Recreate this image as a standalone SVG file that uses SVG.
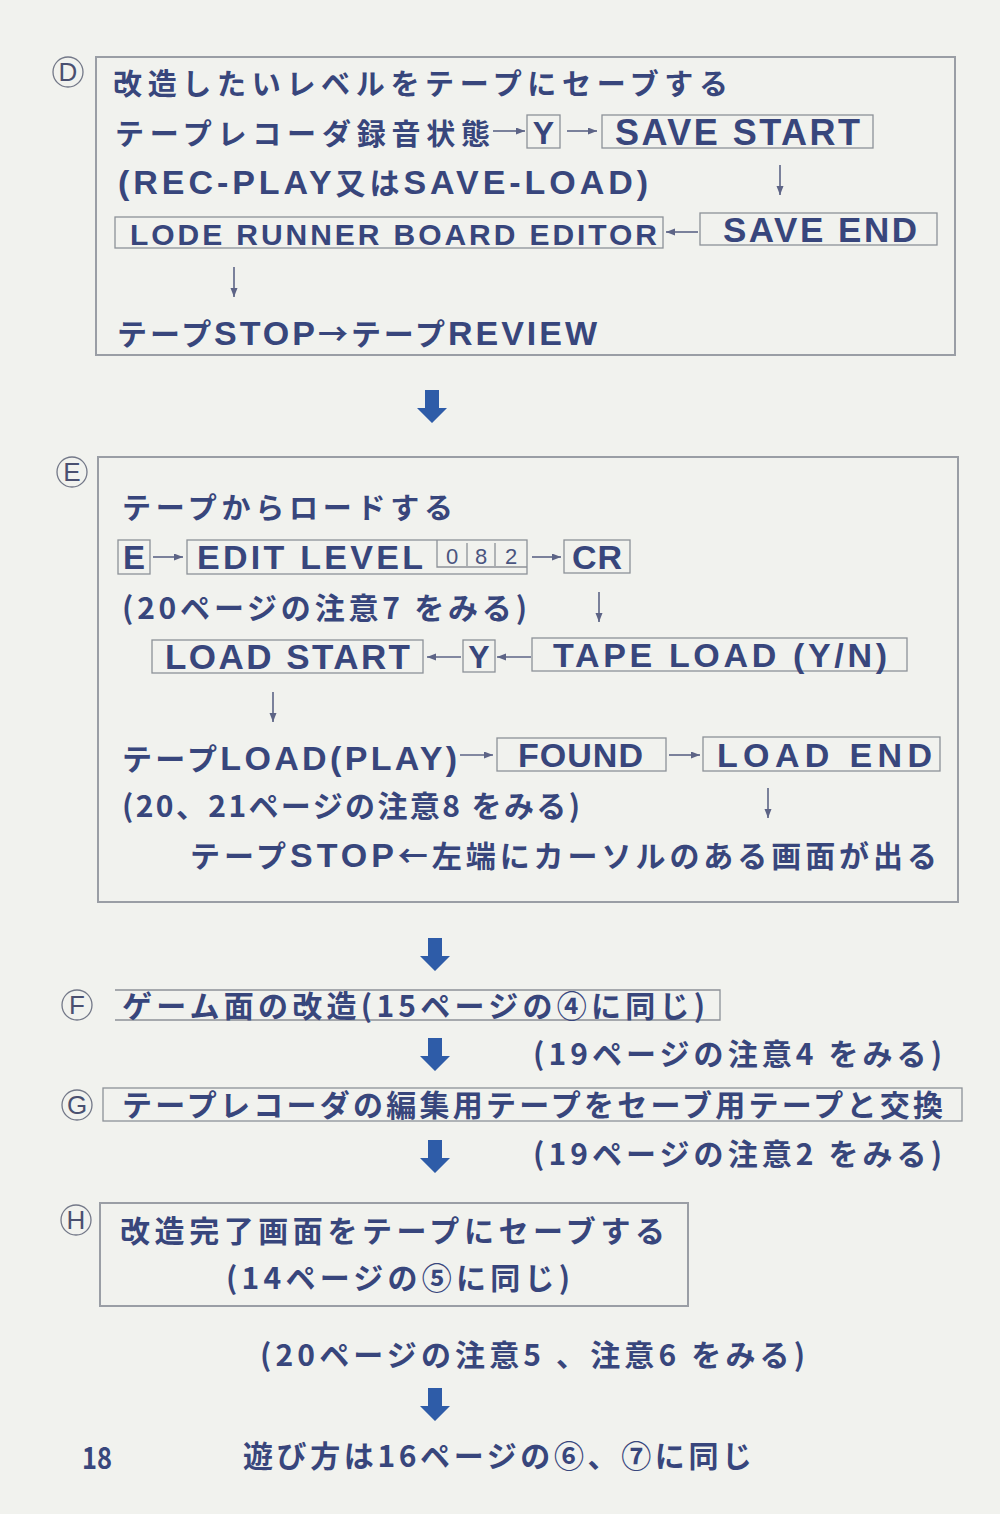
<svg xmlns="http://www.w3.org/2000/svg" width="1000" height="1514" viewBox="0 0 1000 1514">
<defs>
<style>
.bg{fill:#f1f2ee}
.t{font-family:"Liberation Sans","Noto Sans CJK JP","Noto Sans",sans-serif;fill:#38467c;font-weight:bold;font-size:34px}
.c{font-family:"Noto Sans CJK JP",sans-serif;font-size:30px}
.j{font-family:"Noto Sans CJK JP","Liberation Sans",sans-serif;fill:#38467c;font-weight:bold;font-size:29px}
.n{font-family:"Noto Sans CJK JP","Liberation Sans",sans-serif;fill:#38467c;font-weight:bold;font-size:30px}
.k{font-family:"Liberation Sans","Noto Sans",sans-serif;fill:#38467c;font-weight:bold}
.box{fill:none;stroke:#8d9198;stroke-width:1.3}
.big{fill:none;stroke:#9a9ea5;stroke-width:2}
.lbl{fill:none;stroke:#737888;stroke-width:1.3}
.lt{font-family:"Liberation Sans",sans-serif;fill:#4a5070;font-size:26px;text-anchor:middle}
.con{fill:none;stroke:#5d6486;stroke-width:1.6}
.blk{fill:#2e5ca8}
.dg{font-family:"Liberation Sans",sans-serif;fill:#4a5580;font-size:22px;text-anchor:middle}
</style>
<marker id="ah" markerWidth="10" markerHeight="8" refX="9" refY="3.5" orient="auto" markerUnits="userSpaceOnUse">
<path d="M0,0 L9,3.5 L0,7 z" fill="#5d6486"/>
</marker>
<symbol id="barrow" overflow="visible">
<path d="M-7,0 H7 V18 H15 L0,33 L-15,18 H-7 Z"/>
</symbol>
</defs>
<rect class="bg" x="0" y="0" width="1000" height="1514"/>

<!-- Section D -->
<g id="labelD"><circle class="lbl" cx="68" cy="72" r="15"/><text class="lt" x="68" y="81">D</text></g>
<g id="boxD"><rect class="big" x="96" y="57" width="859" height="298"/></g>
<g id="d-title"><text class="j" x="113" y="95" textLength="615" lengthAdjust="spacing">改造したいレベルをテープにセーブする</text></g>
<g id="d-record"><text class="j" x="115" y="145" textLength="375" lengthAdjust="spacing">テープレコーダ録音状態</text></g>
<g id="d-y"><rect class="box" x="527" y="115" width="33" height="33"/><text class="k" x="543.5" y="144" font-size="32" text-anchor="middle">Y</text></g>
<g id="d-savestart"><rect class="box" x="602" y="115" width="271" height="33"/><text class="k" x="615" y="145" font-size="36" textLength="245" lengthAdjust="spacing">SAVE START</text></g>
<g id="d-recplay"><text class="t" x="118" y="194" textLength="530" lengthAdjust="spacing">(REC-PLAY<tspan class="c">又は</tspan>SAVE-LOAD)</text></g>
<g id="d-editor"><rect class="box" x="115" y="217" width="548" height="31"/><text class="k" x="130" y="245" font-size="30" textLength="527" lengthAdjust="spacing">LODE RUNNER  BOARD EDITOR</text></g>
<g id="d-saveend"><rect class="box" x="700" y="213" width="237" height="32"/><text class="k" x="723" y="242" font-size="35" textLength="194" lengthAdjust="spacing">SAVE END</text></g>
<g id="d-stop"><text class="t" x="117" y="345" textLength="480" lengthAdjust="spacing"><tspan class="c">テープ</tspan>STOP<tspan class="c">→テープ</tspan>REVIEW</text></g>

<!-- Section E -->
<g id="labelE"><circle class="lbl" cx="72" cy="472" r="15"/><text class="lt" x="72" y="481">E</text></g>
<g id="boxE"><rect class="big" x="98" y="457" width="860" height="445"/></g>
<g id="e-title"><text class="j" x="122" y="519" textLength="331" lengthAdjust="spacing">テープからロードする</text></g>
<g id="e-e"><rect class="box" x="118" y="540" width="32" height="34"/><text class="k" x="134" y="569" font-size="33" text-anchor="middle">E</text></g>
<g id="e-editlevel"><rect class="box" x="187" y="540" width="340" height="34"/><text class="k" x="197" y="569" font-size="34" textLength="226" lengthAdjust="spacing">EDIT LEVEL</text>
<path class="box" d="M437,540 V567 H527 M467,543 V566 M495,543 V566"/>
<text class="dg" x="452" y="564">0</text><text class="dg" x="481" y="564">8</text><text class="dg" x="511" y="564">2</text></g>
<g id="e-cr"><rect class="box" x="564" y="540" width="66" height="33"/><text class="k" x="572" y="569" font-size="34" textLength="50" lengthAdjust="spacing">CR</text></g>
<g id="e-note7"><text class="n" x="122" y="619" textLength="405" lengthAdjust="spacing">(20ページの注意7 をみる)</text></g>
<g id="e-loadstart"><rect class="box" x="152" y="640" width="271" height="33"/><text class="k" x="165" y="669" font-size="35" textLength="245" lengthAdjust="spacing">LOAD START</text></g>
<g id="e-y"><rect class="box" x="463" y="640" width="32" height="32"/><text class="k" x="479" y="668" font-size="32" text-anchor="middle">Y</text></g>
<g id="e-tapeload"><rect class="box" x="532" y="638" width="375" height="33"/><text class="k" x="553" y="667" font-size="34" textLength="334" lengthAdjust="spacing">TAPE LOAD (Y/N)</text></g>
<g id="e-loadplay"><text class="t" x="122" y="770" textLength="335" lengthAdjust="spacing"><tspan class="c">テープ</tspan>LOAD(PLAY)</text></g>
<g id="e-found"><rect class="box" x="497" y="738" width="169" height="33"/><text class="k" x="518" y="767" font-size="34" textLength="125" lengthAdjust="spacing">FOUND</text></g>
<g id="e-loadend"><rect class="box" x="703" y="737" width="237" height="34"/><text class="k" x="717" y="767" font-size="34" textLength="215" lengthAdjust="spacing">LOAD END</text></g>
<g id="e-note8"><text class="n" x="122" y="817" textLength="458" lengthAdjust="spacing">(20、21ページの注意8 をみる)</text></g>
<g id="e-cursor"><text class="t" x="190" y="867" textLength="747" lengthAdjust="spacing"><tspan class="c">テープ</tspan>STOP<tspan class="c">←左端にカーソルのある画面が出る</tspan></text></g>

<!-- Section F -->
<g id="labelF"><circle class="lbl" cx="77" cy="1005" r="15"/><text class="lt" x="77" y="1014">F</text></g>
<g id="f-box"><path class="box" d="M115,990 H720 V1020 H115"/><text class="n" x="122" y="1017" textLength="583" lengthAdjust="spacing">ゲーム面の改造(15ページの④に同じ)</text></g>
<g id="f-note"><text class="n" x="533" y="1065" textLength="409" lengthAdjust="spacing">(19ページの注意4 をみる)</text></g>

<!-- Section G -->
<g id="labelG"><circle class="lbl" cx="77" cy="1105" r="15"/><text class="lt" x="77" y="1114">G</text></g>
<g id="g-box"><rect class="box" x="103" y="1088" width="859" height="33"/><text class="n" x="122" y="1116" textLength="821" lengthAdjust="spacing">テープレコーダの編集用テープをセーブ用テープと交換</text></g>
<g id="g-note"><text class="n" x="533" y="1165" textLength="409" lengthAdjust="spacing">(19ページの注意2 をみる)</text></g>

<!-- Section H -->
<g id="labelH"><circle class="lbl" cx="76" cy="1220" r="15"/><text class="lt" x="76" y="1229">H</text></g>
<g id="h-box"><rect class="big" x="100" y="1203" width="588" height="103"/>
<text class="n" x="120" y="1242" textLength="545" lengthAdjust="spacing">改造完了画面をテープにセーブする</text>
<text class="n" x="226" y="1289" textLength="344" lengthAdjust="spacing">(14ページの⑤に同じ)</text></g>
<g id="h-note"><text class="n" x="260" y="1366" textLength="545" lengthAdjust="spacing">(20ページの注意5 、注意6 をみる)</text></g>

<g id="page-number"><text class="n" x="82" y="1469" textLength="30" lengthAdjust="spacingAndGlyphs">18</text></g>
<g id="final"><text class="n" x="243" y="1467" textLength="509" lengthAdjust="spacing">遊び方は16ページの⑥、⑦に同じ</text></g>

<!-- Connectors -->
<g id="connectors">
<path class="con" marker-end="url(#ah)" d="M493,131 H525"/>
<path class="con" marker-end="url(#ah)" d="M567,131 H597"/>
<path class="con" marker-end="url(#ah)" d="M780,165 V195"/>
<path class="con" marker-end="url(#ah)" d="M698,232 H666"/>
<path class="con" marker-end="url(#ah)" d="M234,267 V297"/>
<path class="con" marker-end="url(#ah)" d="M153,557 H183"/>
<path class="con" marker-end="url(#ah)" d="M532,557 H561"/>
<path class="con" marker-end="url(#ah)" d="M599,592 V622"/>
<path class="con" marker-end="url(#ah)" d="M461,657 H427"/>
<path class="con" marker-end="url(#ah)" d="M531,657 H497"/>
<path class="con" marker-end="url(#ah)" d="M273,692 V722"/>
<path class="con" marker-end="url(#ah)" d="M460,755 H493"/>
<path class="con" marker-end="url(#ah)" d="M669,755 H700"/>
<path class="con" marker-end="url(#ah)" d="M768,788 V818"/>
<use class="blk" href="#barrow" x="432" y="390"/>
<use class="blk" href="#barrow" x="435" y="938"/>
<use class="blk" href="#barrow" x="435" y="1038"/>
<use class="blk" href="#barrow" x="435" y="1140"/>
<use class="blk" href="#barrow" x="435" y="1388"/>
</g>
</svg>
